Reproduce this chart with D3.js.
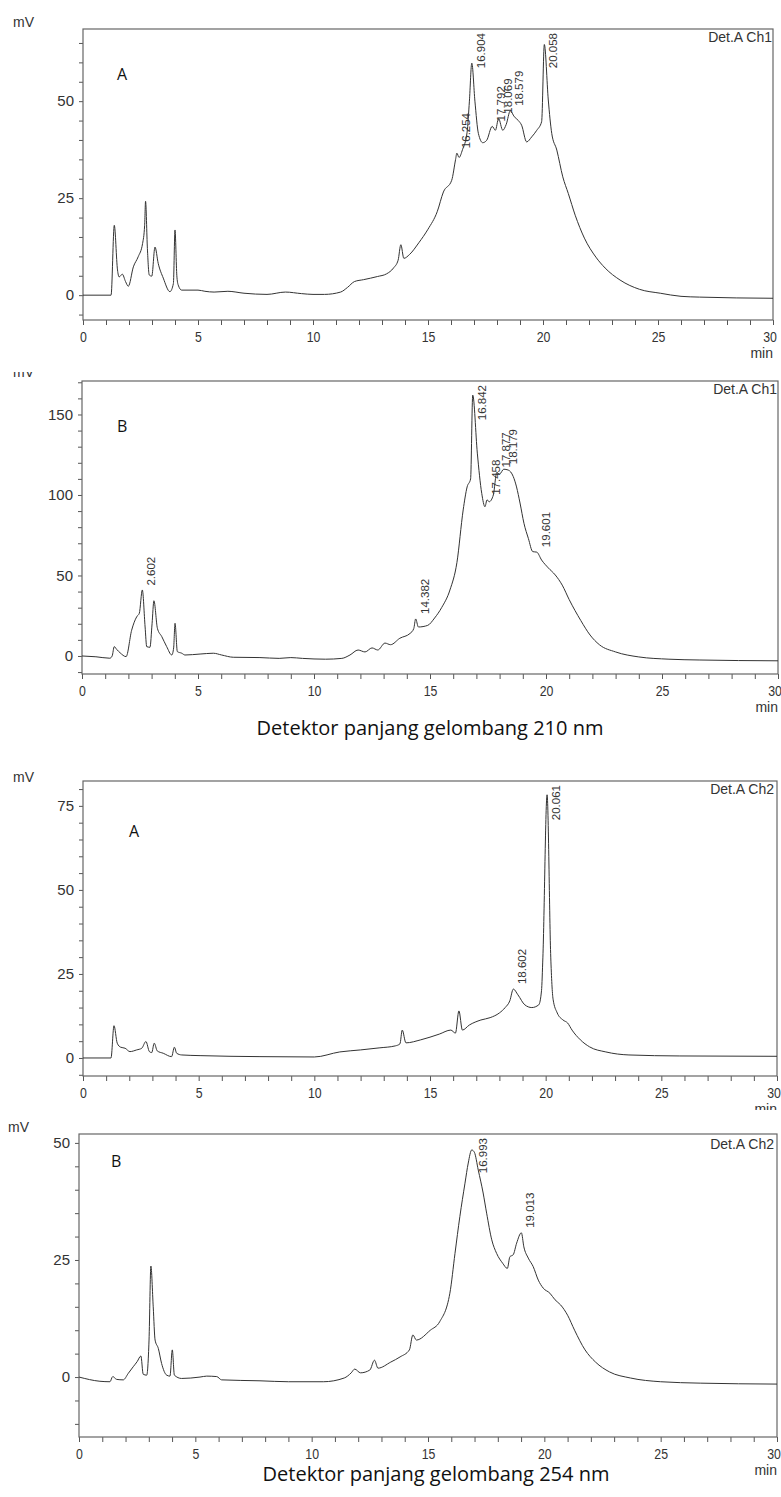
<!DOCTYPE html>
<html>
<head>
<meta charset="utf-8">
<script src="https://cdn.jsdelivr.net/npm/d3@7"></script>
<style>
  body { margin: 0; background: #fff; }
  svg { display: block; }
</style>
</head>
<body>
<svg width="781" height="1497"></svg>
<script>
// ---- data (time in min, signal in mV) ----

// 210 nm, sample A
var a210Time = [0, 1.22, 1.36, 1.5, 1.57, 1.71, 1.85, 1.97, 2.19, 2.4, 2.59, 2.68, 2.72, 2.8, 2.88, 2.99, 3.13, 3.27, 3.49, 3.78, 3.93, 4.0, 4.08, 4.14, 4.29, 5.0, 5.3, 5.7, 6.3, 7.0, 8.0, 8.8, 9.5, 10.0, 10.5, 11.2, 11.5, 11.8, 12.2, 12.8, 13.2, 13.5, 13.7, 13.82, 13.95, 14.2, 14.6, 15.0, 15.4, 15.67, 16.03, 16.2, 16.254, 16.35, 16.5, 16.7, 16.8, 16.904, 17.04, 17.19, 17.38, 17.55, 17.792, 17.93, 18.069, 18.25, 18.4, 18.579, 18.75, 18.93, 19.07, 19.29, 19.51, 19.73, 19.94, 20.058, 20.23, 20.38, 20.6, 20.86, 21.1, 21.4, 21.8, 22.3, 22.7, 23.35, 24.2, 25.1, 26, 26.8, 30];
var a210Value = [0, 0, 18, 6.5, 4.7, 5.4, 3.5, 2.3, 7.3, 9.9, 13.3, 18, 24.2, 12, 5.2, 4.9, 12.4, 8.2, 4.4, 0.9, 3, 16.8, 5, 2.6, 1.3, 1.3, 1.0, 0.8, 1.0, 0.5, 0.2, 0.8, 0.4, 0.2, 0.2, 0.8, 2, 3.5, 4, 4.8, 5.5, 7, 9, 13, 9.5, 10.5, 13.5, 17, 21.5, 26.6, 29.6, 35, 36.6, 35.5, 37.5, 42, 50, 59.8, 50, 41.7, 39.3, 39.9, 43.5, 42.5, 45.5, 42.5, 44, 47.5, 46, 45, 43.8, 39.5, 40.8, 42.5, 44.7, 64.6, 50.3, 41.7, 37.4, 30.5, 26.2, 20.6, 14.7, 9.8, 7, 3.9, 1.5, 0.5, -0.3, -0.5, -0.8];
var a210Peaks = [16.254, 16.904, 17.792, 18.069, 18.579, 20.058];

// 210 nm, sample B
var b210Time = [0, 0.6, 1.2, 1.3, 1.39, 1.5, 1.64, 1.9, 2.14, 2.36, 2.47, 2.6, 2.72, 2.79, 2.93, 3.02, 3.1, 3.25, 3.44, 3.65, 3.87, 3.95, 4.01, 4.11, 4.3, 4.44, 5.09, 5.66, 6.02, 6.52, 7.67, 8.5, 9.0, 9.5, 10.5, 11.2, 11.55, 11.9, 12.2, 12.5, 12.75, 13.06, 13.3, 13.7, 14.14, 14.3, 14.382, 14.5, 14.9, 15.2, 15.5, 15.86, 16.16, 16.43, 16.6, 16.75, 16.842, 17.04, 17.23, 17.37, 17.458, 17.55, 17.73, 17.877, 18.0, 18.179, 18.37, 18.59, 18.73, 18.88, 19.05, 19.24, 19.43, 19.601, 19.81, 20.1, 20.4, 20.7, 21.0, 21.5, 21.9, 22.3, 23, 24, 25.3, 26.6, 30];
var b210Value = [0, -0.5, -1.4, 0, 5.8, 4, 2, -0.4, 16, 24.4, 26.5, 41, 18, 5.8, 5.4, 20, 34.3, 17.2, 12, 5.8, 0.6, 5, 20.3, 2.7, 1.7, 0.6, 1.2, 1.7, 0.6, -0.8, -1, -1.5, -1, -1.5, -2, -1.5, 0.6, 3.7, 2.5, 5, 3.7, 8, 7, 11, 14, 17, 23, 18, 19, 23.6, 30, 41, 58, 90.7, 105, 110, 162, 126, 101, 92.7, 97, 95.8, 100, 114, 113, 116, 115.5, 111.4, 105, 95, 82.4, 73, 64.8, 64.5, 59.6, 54.7, 50.3, 44, 35, 22, 13, 7, 2.5, -0.6, -2, -2.5, -3];
var b210Peaks = [2.602, 14.382, 16.842, 17.458, 17.877, 18.179, 19.601];

// 254 nm, sample A
var a254Time = [0, 1.21, 1.34, 1.48, 1.63, 1.82, 2.03, 2.32, 2.54, 2.72, 2.87, 2.97, 3.08, 3.21, 3.47, 3.83, 3.95, 4.05, 4.27, 5.06, 7.65, 10.0, 11.1, 12.0, 12.8, 13.5, 13.7, 13.8, 13.96, 14.6, 15.4, 15.9, 16.1, 16.25, 16.4, 16.7, 17.2, 17.6, 18.0, 18.25, 18.45, 18.602, 18.8, 19.1, 19.4, 19.7, 19.82, 19.88, 20.061, 20.22, 20.32, 20.5, 20.75, 20.95, 21.14, 21.5, 21.9, 22.6, 23.6, 25.8, 30];
var a254Value = [0, 0, 9.6, 4.4, 3.2, 2.9, 1.9, 2.4, 2.9, 4.9, 1.9, 1.6, 4.4, 2.1, 1.4, 0.4, 3.2, 1.4, 0.9, 0.7, 0.4, 0.3, 1.8, 2.4, 3, 3.6, 4.2, 8.3, 4.5, 5.4, 7.1, 8.3, 7.4, 14, 8.3, 9.8, 11.3, 12, 13.4, 15, 17, 20.5, 18.8, 15.8, 15, 15.8, 20, 30, 78.3, 30, 17.5, 13.4, 11.3, 10.4, 8.3, 5.4, 3.3, 1.8, 0.9, 0.6, 0.5];
var a254Peaks = [18.602, 20.061];

// 254 nm, sample B
var b254Time = [0, 0.9, 1.33, 1.45, 1.62, 1.9, 2.12, 2.33, 2.5, 2.66, 2.76, 2.91, 3.01, 3.09, 3.19, 3.27, 3.41, 3.55, 3.77, 3.91, 4.01, 4.1, 4.41, 5.2, 5.49, 5.92, 6.13, 7.78, 9.0, 10.5, 11.4, 11.7, 11.85, 12.1, 12.5, 12.7, 12.85, 13.4, 13.8, 14.2, 14.35, 14.5, 15.1, 15.5, 15.94, 16.16, 16.37, 16.59, 16.73, 16.88, 16.993, 17.16, 17.37, 17.52, 17.74, 17.95, 18.21, 18.41, 18.52, 18.66, 18.81, 19.013, 19.12, 19.31, 19.52, 19.74, 19.95, 20.24, 20.46, 20.7, 21.0, 21.3, 21.75, 22.2, 22.8, 23.7, 25, 26.7, 30];
var b254Value = [0, -0.9, -1, 0.1, -0.5, -0.6, 0.8, 2.2, 3.3, 4.5, 0.6, 0.4, 7.9, 23.7, 15, 7.9, 6.1, 2.9, 0.4, 0.2, 5.8, 0.4, -0.3, 0, 0.2, 0.1, -0.6, -0.8, -1, -1, -0.2, 0.9, 1.7, 0.9, 1.5, 3.6, 1.9, 3.2, 4.3, 5.8, 9, 7.9, 10, 11.8, 17.9, 26.4, 34.3, 41.4, 45.7, 48.5, 48, 44.2, 39.3, 35, 29.3, 26.4, 24.3, 23.2, 25.7, 26.1, 28.6, 30.8, 27.8, 25.4, 23.6, 20.7, 19, 17.9, 16.5, 15.4, 13.2, 10, 5.8, 3.2, 1.1, -0.2, -1, -1.3, -1.5];
var b254Peaks = [16.993, 19.013];

var xTicks = d3.range(0, 31, 1);
var captions = ["Detektor panjang gelombang 210 nm", "Detektor panjang gelombang 254 nm"];

// ---- panel layout ----
var panels = [
  { time: a210Time, value: a210Value, peaks: a210Peaks, letter: "A", det: "Det.A Ch1",
    left: 83, right: 773, top: 29, bottom: 320, yDomain: [-6.4, 68.6], majors: [0, 25, 50], step: 5,
    letterPos: [117, 80], detPos: [772, 42], mvPos: [13, 27], clip: [0, 362] },
  { time: b210Time, value: b210Value, peaks: b210Peaks, letter: "B", det: "Det.A Ch1",
    left: 82, right: 778, top: 381, bottom: 674, yDomain: [-11.2, 170.8], majors: [0, 50, 100, 150], step: 10,
    letterPos: [117, 432], detPos: [777, 394], mvPos: [13, 377], clip: [372, 748] },
  { time: a254Time, value: a254Value, peaks: a254Peaks, letter: "A", det: "Det.A Ch2",
    left: 83, right: 777, top: 781, bottom: 1076, yDomain: [-5.36, 82.4], majors: [0, 25, 50, 75], step: 5,
    letterPos: [129, 837], detPos: [774, 794], mvPos: [13, 782], clip: [762, 1110] },
  { time: b254Time, value: b254Value, peaks: b254Peaks, letter: "B", det: "Det.A Ch2",
    left: 79, right: 777, top: 1134, bottom: 1437, yDomain: [-12.8, 51.9], majors: [0, 25, 50], step: 5,
    letterPos: [111, 1167], detPos: [774, 1149], mvPos: [8, 1132], clip: [1110, 1497] }
];

var svg = d3.select("svg");
var defs = svg.append("defs");
var axisFont = "'Liberation Sans', Arial, sans-serif";

panels.forEach(function(p, i) {
  defs.append("clipPath").attr("id", "clip" + i)
    .append("rect").attr("x", 0).attr("y", p.clip[0])
    .attr("width", 781).attr("height", p.clip[1] - p.clip[0]);

  var g = svg.append("g").attr("clip-path", "url(#clip" + i + ")");

  var x = d3.scaleLinear().domain([0, 30]).range([p.left, p.right]);
  var y = d3.scaleLinear().domain(p.yDomain).range([p.bottom, p.top]);

  // y ticks every step, labels only on the majors
  var yTicks = d3.range(Math.ceil(p.yDomain[0] / p.step), Math.floor(p.yDomain[1] / p.step) + 1)
                 .map(d => d * p.step);

  var yAxis = g.append("g")
    .attr("transform", "translate(" + p.left + ",0)")
    .call(d3.axisLeft(y).tickValues(yTicks).tickSize(4).tickPadding(5).tickSizeOuter(0)
            .tickFormat(d => p.majors.indexOf(d) > -1 ? d : ""));
  yAxis.attr("font-family", axisFont).attr("font-size", 15);

  var xAxis = g.append("g")
    .attr("transform", "translate(0," + p.bottom + ")")
    .call(d3.axisBottom(x).tickValues(xTicks).tickSize(5).tickPadding(7).tickSizeOuter(0)
            .tickFormat(d => d % 5 === 0 ? d : ""));
  xAxis.attr("font-family", axisFont).attr("font-size", 14);
  // narrow the minute labels, keep the last one inside the page
  xAxis.selectAll(".tick text")
    .attr("transform", "scale(0.88,1)")
    .attr("x", d => d === 30 ? -4 : 0);

  [yAxis, xAxis].forEach(function(ax) {
    ax.select(".domain").remove();
    ax.selectAll("line").attr("stroke", "#555");
    ax.selectAll("text").attr("fill", "#333");
  });

  // frame
  g.append("rect")
    .attr("x", p.left).attr("y", p.top)
    .attr("width", p.right - p.left).attr("height", p.bottom - p.top)
    .attr("fill", "none").attr("stroke", "#666").attr("stroke-width", 1.2);

  var pts = p.time.map((t, k) => ({ t: t, v: p.value[k] }));

  g.append("path")
    .datum(pts)
    .attr("fill", "none")
    .attr("stroke", "#333")
    .attr("stroke-width", 1)
    .attr("d", d3.line().x(d => x(d.t)).y(d => y(d.v)).curve(d3.curveMonotoneX));

  // peak retention time labels, rotated, just right of the apex
  var bis = d3.bisector(d => d.t).left;
  p.peaks.forEach(function(t) {
    var k = Math.max(1, bis(pts, t));
    var a = pts[k - 1], b = pts[k];
    var v = a.v + (b.v - a.v) * (t - a.t) / ((b.t - a.t) || 1);
    var lbl = g.append("text")
      .attr("font-family", axisFont).attr("font-size", 11.5).attr("fill", "#333")
      .text(t.toFixed(3));
    var len = lbl.node().getComputedTextLength();
    var base = y(v) - 5;
    if (base - len < p.top + 4) base = p.top + 4 + len;
    lbl.attr("transform", "translate(" + (x(t) + 13) + "," + base + ") rotate(-90)");
  });

  g.append("text")
    .attr("x", p.detPos[0]).attr("y", p.detPos[1])
    .attr("text-anchor", "end")
    .attr("font-family", axisFont).attr("font-size", 14).attr("fill", "#333")
    .text(p.det);

  g.append("text")
    .attr("x", p.mvPos[0]).attr("y", p.mvPos[1])
    .attr("font-family", axisFont).attr("font-size", 14).attr("fill", "#333")
    .text("mV");

  g.append("text")
    .attr("x", Math.min(p.right, 778)).attr("y", p.bottom + 38)
    .attr("text-anchor", "end")
    .attr("font-family", axisFont).attr("font-size", 14).attr("fill", "#333")
    .text("min");

  g.append("text")
    .attr("x", p.letterPos[0]).attr("y", p.letterPos[1])
    .attr("font-family", "'Open Sans', Lato, sans-serif").attr("font-size", 16).attr("fill", "#111")
    .text(p.letter);
});

// captions under each detector pair
svg.selectAll(".caption")
  .data(captions)
  .enter()
  .append("text")
    .classed("caption", true)
    .attr("x", (d, i) => i === 0 ? 430 : 436)
    .attr("y", (d, i) => i === 0 ? 735 : 1481)
    .attr("text-anchor", "middle")
    .attr("font-family", "'Open Sans', Lato, sans-serif")
    .attr("font-size", 20)
    .attr("fill", "#111")
    .text(d => d);
</script>
</body>
</html>
